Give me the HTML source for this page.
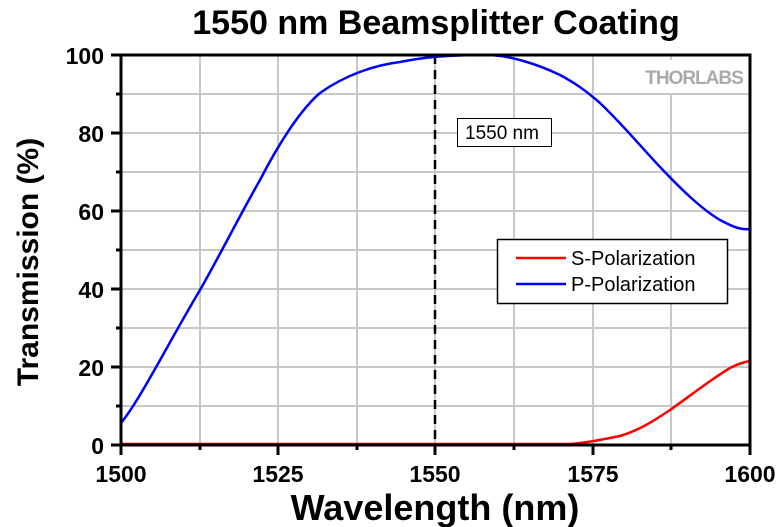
<!DOCTYPE html>
<html><head><meta charset="utf-8"><style>body{margin:0;background:#fff}svg{display:block}</style></head><body>
<svg width="780" height="527" viewBox="0 0 780 527" xmlns="http://www.w3.org/2000/svg" font-family="Liberation Sans, Arial, sans-serif">
<rect width="780" height="527" fill="#fff"/>
<text x="436" y="34" text-anchor="middle" font-size="34" font-weight="bold">1550 nm Beamsplitter Coating</text>
<g stroke="#c8c8c8" stroke-width="2">
<line x1="200" y1="55" x2="200" y2="445"/><line x1="278" y1="55" x2="278" y2="445"/><line x1="357" y1="55" x2="357" y2="445"/><line x1="435" y1="55" x2="435" y2="445"/><line x1="514" y1="55" x2="514" y2="445"/><line x1="593" y1="55" x2="593" y2="445"/><line x1="671" y1="55" x2="671" y2="445"/>
<line x1="121" y1="94" x2="750" y2="94"/><line x1="121" y1="133" x2="750" y2="133"/><line x1="121" y1="172" x2="750" y2="172"/><line x1="121" y1="211" x2="750" y2="211"/><line x1="121" y1="250" x2="750" y2="250"/><line x1="121" y1="289" x2="750" y2="289"/><line x1="121" y1="328" x2="750" y2="328"/><line x1="121" y1="367" x2="750" y2="367"/><line x1="121" y1="406" x2="750" y2="406"/>
</g>
<rect x="647" y="60" width="98" height="33" fill="#fff"/>
<text x="694" y="84" text-anchor="middle" font-size="19" font-weight="bold" fill="#aaa" letter-spacing="-1">THORLABS</text>
<line x1="435" y1="55" x2="435" y2="445" stroke="#000" stroke-width="2.5" stroke-dasharray="9,6"/>
<path d="M121,423 C140,400 170,340 200,290 C220,255 240,215 260,180 C278,145 300,110 320,93 C345,75 375,65 400,62 C420,58 440,55 490,55 C510,56 535,63 560,75 C575,83 585,90 600,103 C620,122 635,140 660,167 C680,188 700,208 720,220 C735,228 742,230 750,229" fill="none" stroke="#0000ff" stroke-width="2.5"/>
<path d="M121,444 L570,444 C585,443 600,440 620,436 C640,430 655,420 670,410 C690,396 710,380 730,368 C740,363 745,362 750,361" fill="none" stroke="#ff0000" stroke-width="2.5"/>
<rect x="457.5" y="118.5" width="94" height="28" fill="#fff" stroke="#000"/>
<text x="502" y="139" text-anchor="middle" font-size="19">1550 nm</text>
<rect x="497.5" y="239.5" width="230" height="64" fill="#fff" stroke="#000" stroke-width="1.5"/>
<line x1="516" y1="258" x2="566" y2="258" stroke="#ff0000" stroke-width="2.5"/>
<line x1="516" y1="284" x2="566" y2="284" stroke="#0000ff" stroke-width="2.5"/>
<text x="571" y="265" font-size="20">S-Polarization</text>
<text x="571" y="291" font-size="20">P-Polarization</text>
<g stroke="#000" stroke-width="3" fill="none">
<rect x="121" y="55" width="629" height="390"/>
</g>
<g stroke="#000" stroke-width="3">
<line x1="111" y1="55" x2="121" y2="55"/><line x1="111" y1="133" x2="121" y2="133"/><line x1="111" y1="211" x2="121" y2="211"/><line x1="111" y1="289" x2="121" y2="289"/><line x1="111" y1="367" x2="121" y2="367"/><line x1="111" y1="445" x2="121" y2="445"/>
<line x1="116" y1="94" x2="121" y2="94"/><line x1="116" y1="172" x2="121" y2="172"/><line x1="116" y1="250" x2="121" y2="250"/><line x1="116" y1="328" x2="121" y2="328"/><line x1="116" y1="406" x2="121" y2="406"/>
<line x1="121" y1="445" x2="121" y2="455"/><line x1="278" y1="445" x2="278" y2="455"/><line x1="435" y1="445" x2="435" y2="455"/><line x1="593" y1="445" x2="593" y2="455"/><line x1="750" y1="445" x2="750" y2="455"/>
<line x1="200" y1="445" x2="200" y2="450"/><line x1="357" y1="445" x2="357" y2="450"/><line x1="514" y1="445" x2="514" y2="450"/><line x1="671" y1="445" x2="671" y2="450"/>
</g>
<g font-size="23" font-weight="bold" text-anchor="end">
<text x="104" y="64">100</text><text x="104" y="142">80</text><text x="104" y="220">60</text><text x="104" y="298">40</text><text x="104" y="376">20</text><text x="104" y="454">0</text>
</g>
<g font-size="23" font-weight="bold" text-anchor="middle">
<text x="121" y="482">1500</text><text x="278" y="482">1525</text><text x="435" y="482">1550</text><text x="593" y="482">1575</text><text x="750" y="482">1600</text>
</g>
<text x="435" y="520" text-anchor="middle" font-size="36" font-weight="bold">Wavelength (nm)</text>
<text transform="translate(38,262) rotate(-90)" text-anchor="middle" font-size="30" font-weight="bold">Transmission (%)</text>
</svg>
</body></html>
